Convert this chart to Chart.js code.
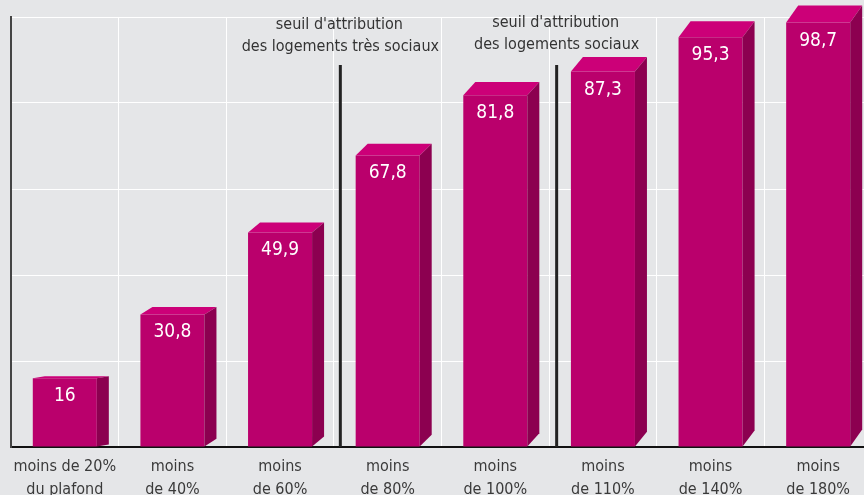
<!DOCTYPE html>
<html lang="fr">
<head>
    <meta charset="UTF-8">
    <title>Seuils d'attribution</title>
    <script src="https://cdn.jsdelivr.net/npm/chart.js"></script>
    <style>
        html, body { margin: 0; padding: 0; overflow: hidden; background: #e5e6e8; }
        #wrap { width: 880px; height: 495px; }
    </style>
</head>
<body>
    <div id="wrap"><canvas id="chart" width="880" height="495"></canvas></div>
    <script>
        // data
        const categories = [
            ["moins de 20%", "du plafond"],
            ["moins", "de 40%"],
            ["moins", "de 60%"],
            ["moins", "de 80%"],
            ["moins", "de 100%"],
            ["moins", "de 110%"],
            ["moins", "de 140%"],
            ["moins", "de 180%"]
        ];
        const values = [16, 30.8, 49.9, 67.8, 81.8, 87.3, 95.3, 98.7];
        const thresholdPositions = [2.56, 4.57];
        const thresholdLabels = [
            ["seuil d'attribution", "des logements très sociaux"],
            ["seuil d'attribution", "des logements sociaux"]
        ];

        const FONT = "'Liberation Sans Narrow', 'DejaVu Sans Condensed', 'Roboto', sans-serif";

        // fake 3D faces + value labels + threshold lines
        const decor = {
            id: "decor",
            afterDatasetsDraw(chart) {
                const ctx = chart.ctx;
                const meta = chart.getDatasetMeta(0);
                const n = meta.data.length;
                meta.data.forEach((bar, i) => {
                    const left = bar.x - bar.width / 2;
                    const right = bar.x + bar.width / 2;
                    const dx = 12;
                    const dy = 2 + 15 * Math.sqrt(i / (n - 1));
                    ctx.save();
                    // top face
                    ctx.fillStyle = "#cc0078";
                    ctx.beginPath();
                    ctx.moveTo(left, bar.y);
                    ctx.lineTo(left + dx, bar.y - dy);
                    ctx.lineTo(right + dx, bar.y - dy);
                    ctx.lineTo(right, bar.y);
                    ctx.closePath();
                    ctx.fill();
                    // side face
                    ctx.fillStyle = "#8c0050";
                    ctx.beginPath();
                    ctx.moveTo(right, bar.y);
                    ctx.lineTo(right + dx, bar.y - dy);
                    ctx.lineTo(right + dx, bar.base - dy);
                    ctx.lineTo(right, bar.base);
                    ctx.closePath();
                    ctx.fill();
                    // value
                    ctx.fillStyle = "#ffffff";
                    ctx.font = "19px " + FONT;
                    ctx.textAlign = "center";
                    ctx.textBaseline = "middle";
                    ctx.fillText(String(values[i]).replace(".", ","), bar.x, bar.y + 18);
                    ctx.restore();
                });

                const x = chart.scales.x;
                const y = chart.scales.y;
                thresholdPositions.forEach((p, k) => {
                    const px = x.getPixelForValue(p);
                    ctx.save();
                    ctx.strokeStyle = "#222222";
                    ctx.lineWidth = 3;
                    ctx.beginPath();
                    ctx.moveTo(px, 65);
                    ctx.lineTo(px, y.getPixelForValue(0));
                    ctx.stroke();
                    ctx.fillStyle = "#333333";
                    ctx.font = "16px " + FONT;
                    ctx.textAlign = "center";
                    ctx.textBaseline = "middle";
                    ctx.fillText(thresholdLabels[k][0], px - 1, 25 - k * 2);
                    ctx.fillText(thresholdLabels[k][1], px, 47 - k * 2);
                    ctx.restore();
                });
            }
        };

        new Chart(document.getElementById("chart"), {
            type: "bar",
            data: {
                labels: categories,
                datasets: [{
                    data: values,
                    backgroundColor: "#ba006c",
                    borderWidth: 0,
                    barPercentage: 0.595,
                    categoryPercentage: 1
                }]
            },
            options: {
                responsive: false,
                animation: false,
                layout: { padding: { left: 11, right: 8, top: 17, bottom: 0 } },
                plugins: { legend: { display: false }, tooltip: { enabled: false } },
                scales: {
                    x: {
                        offset: true,
                        grid: {
                            offset: true,
                            drawTicks: false,
                            color: (c) => c.index === 0 ? "rgba(0,0,0,0)" : "#ffffff",
                            lineWidth: 1
                        },
                        border: { display: true, color: "#111111", width: 2 },
                        ticks: {
                            color: "#3a3a3a",
                            font: { family: FONT, size: 16, lineHeight: 1.4 },
                            padding: 9,
                            maxRotation: 0,
                            autoSkip: false
                        },
                        afterFit: (axis) => { axis.height = 48; }
                    },
                    y: {
                        min: 0,
                        max: 100,
                        grid: {
                            drawTicks: false,
                            color: (c) => c.tick.value === 0 ? "rgba(0,0,0,0)" : "#ffffff",
                            lineWidth: 1
                        },
                        border: { display: true, color: "#444444", width: 2 },
                        ticks: { display: false, stepSize: 20 },
                        afterFit: (axis) => { axis.width = 0; }
                    }
                }
            },
            plugins: [decor]
        });
    </script>
</body>
</html>
